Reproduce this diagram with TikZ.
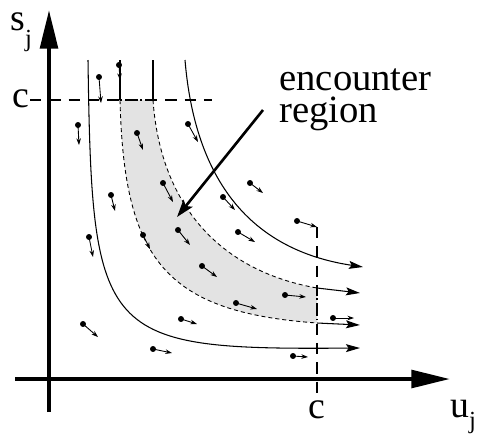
\documentclass[tikz,border=0pt]{standalone}
\usepackage{fontspec}
\setmainfont{Liberation Serif}
\usetikzlibrary{arrows.meta}

\tikzset{
  mainaxis/.style={line width=2.3pt,-{Triangle[length=22pt,width=10pt]}},
  flow/.style={line width=0.6pt},
  flowend/.style={flow,-{Stealth[length=8pt,width=4.5pt,inset=1.5pt]}},
  bandline/.style={line width=0.5pt,dash pattern=on 2.3pt off 1.7pt},
  bandfill/.style={fill=black!11},
  cornerdots/.style={line width=0.9pt,dotted},
  cline/.style={line width=0.6pt,dash pattern=on 6.5pt off 4.5pt},
  drift/.style={line width=0.5pt,-{Stealth[length=3.8pt,width=2.6pt]}},
  pointer/.style={line width=1.5pt,-{Stealth[length=10pt,width=6.5pt,inset=2pt]}},
  lbl/.style={font=\fontsize{21.5}{21.5}\selectfont,inner sep=0pt}
}

\begin{document}
\begin{tikzpicture}[x=0.02cm,y=-0.02cm]
  \useasboundingbox (0,0) rectangle (477,434);

  \fill[bandfill] (153,100) .. controls (160,200) and (215,270) .. (317,288)
    -- (317,323) .. controls (165,312) and (124,260) .. (120,100) -- cycle;

  \coordinate (ctop) at (30,100);
  \coordinate (cmid) at (212,100);
  \coordinate (cright) at (317,227);
  \coordinate (cbot) at (317,397);
  \draw[cline] (ctop) -- (cmid);
  \draw[cline] (cright) -- (cbot);

  \coordinate (lowtop) at (120,100);
  \coordinate (uptop) at (153,100);
  \coordinate (upend) at (317,288);
  \coordinate (lowend) at (317,323);
  \draw[bandline] (uptop) .. controls (160,200) and (215,270) .. (upend);
  \draw[bandline] (lowtop) .. controls (124,260) and (165,312) .. (lowend);
  \draw[cornerdots] (lowtop) -- (uptop);
  \draw[cornerdots] (upend) -- (lowend);
  \draw[flow] (120,60) -- (lowtop);
  \draw[flow] (153,60) -- (uptop);
  \draw[flowend] (upend) -- (360,293);
  \draw[flowend] (lowend) -- (360,325);

  \draw[flowend] (88,60) .. controls (92,340) and (100,350) .. (360,348);
  \draw[flowend] (185,60) .. controls (195,180) and (250,250) .. (363,267);

  \foreach \xa/\ya/\xb/\yb in {99/77/101/103, 119/65/120/80, 78/125/79/145,
      137/133/143/150, 188/124/198/142, 163/183/173/202, 111/195/115/211,
      223/197/235/210, 250/183/263/193, 89/237/93/257, 143/235/150/249,
      178/230/190/245, 238/232/255/242, 202/266/217/277, 297/221/317/227,
      236/303/257/309, 83/324/98/337, 181/319/197/324, 153/349/172/353,
      285/295/306/297, 333/318/354/318, 293/356/308/357} {
    \fill (\xa,\ya) circle[radius=1.7pt];
    \draw[drift] (\xa,\ya) -- (\xb,\yb);
  }

  \coordinate (xstart) at (15,379);
  \coordinate (xend) at (450,379);
  \coordinate (ystart) at (49,412);
  \coordinate (yend) at (49,10);
  \draw[mainaxis] (xstart) -- (xend);
  \draw[mainaxis] (ystart) -- (yend);

  \node[lbl,anchor=base west] (sj) at (10,30) {s\raisebox{-9.6pt}{\fontsize{14}{14}\selectfont j}};
  \node[lbl,anchor=base west] (uj) at (450,417) {u\raisebox{-6.5pt}{\fontsize{14}{14}\selectfont j}};
  \node[lbl,anchor=base west] (cs) at (12,107) {c};
  \node[lbl,anchor=base west] (cu) at (308,418) {c};

  \node[lbl,font=\fontsize{22}{18.5}\selectfont,align=left,anchor=north west] (enc) at (279,68) {encounter\\region};
  \coordinate (ptail) at (263,110);
  \coordinate (phead) at (177,217);
  \draw[pointer] (ptail) -- (phead);
\end{tikzpicture}
\end{document}
